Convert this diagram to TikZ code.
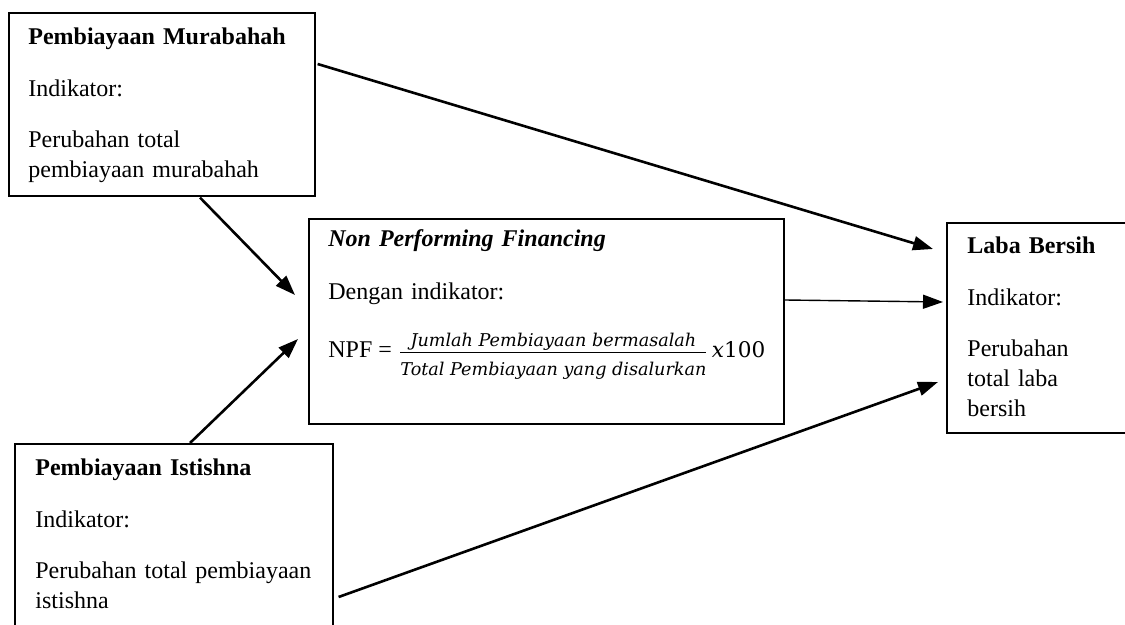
\documentclass[tikz,border=0pt]{standalone}
\usepackage{fontspec}
\setmainfont{Liberation Serif}
\newfontfamily\fracfont{DejaVu Serif}
\usetikzlibrary{arrows.meta}

\begin{document}
\begin{tikzpicture}[x=0.5pt,y=0.5pt,yscale=-1,xscale=1,
	box/.style={draw, line width=0.8pt, inner sep=0pt, anchor=north west},
	txt/.style={anchor=base west, inner sep=0pt, text width=170pt, align=left, font=\fontsize{12}{15}\selectfont},
	link/.style={-{Triangle[length=10pt,width=7pt]}, line width=1.3pt},
	thinlink/.style={-{Triangle[length=10pt,width=7pt]}, line width=0.7pt}]
	\useasboundingbox (0,0) rectangle (1125,625);
	
	%Boxes
	\node [box, minimum width=153pt, minimum height=91.5pt] (mur) at (8,12) {};
	\node [box, minimum width=159pt, minimum height=108.5pt] (ist) at (14,443) {};
	\node [box, minimum width=237.5pt, minimum height=102.5pt] (npf) at (308,218) {};
	\node [box, minimum width=97pt, minimum height=105pt] (laba) at (946,222) {};
	
	% Text Node
	\node [txt] (murtxt) at (28,45) {\textbf{Pembiayaan Murabahah}\\[11pt] Indikator:\\[10.5pt] Perubahan total\\ pembiayaan murabahah};
	% Text Node
	\node [txt] (isttxt) at (35,476) {\textbf{Pembiayaan Istishna}\\[11pt] Indikator:\\[10.5pt] Perubahan total pembiayaan\\ istishna};
	% Text Node
	\node [txt] (labatxt) at (967,254) {\textbf{Laba Bersih}\\[11pt] Indikator:\\[10.5pt] Perubahan\\ total laba\\ bersih};
	% Text Node
	\node [txt] (npftxt) at (328,247) {\textbf{\textit{Non Performing Financing}}\\[11.5pt] Dengan indikator:};
	% Text Node
	\node [anchor=base west, inner sep=0pt, font=\fontsize{12}{15}\selectfont] (npfeq) at (328,358)
	{NPF = $\frac{\raisebox{0pt}[\height][0pt]{\fracfont\itshape\fontsize{8.8}{10}\selectfont Jumlah Pembiayaan bermasalah}}{\hbox{\rule{0pt}{11pt}\fracfont\itshape\fontsize{8.8}{10}\selectfont Total Pembiayaan yang disalurkan}}$\hspace{1.5pt}{\fracfont\fontsize{10.8}{13}\selectfont\itshape x\upshape 100}};
	
	%Arrows
	\draw [link] ([shift={(2,52)}]mur.north east) -- ([shift={(-13,27)}]laba.north west);
	\draw [link] ([shift={(192,1)}]mur.south west) -- ([shift={(-13,77)}]npf.north west);
	\draw [link] ([shift={(176,0)}]ist.north west) -- ([shift={(-10,121)}]npf.north west);
	\draw [thinlink] ([shift={(0,82)}]npf.north east) -- ([shift={(-3,80)}]laba.north west);
	\draw [link] ([shift={(5,154)}]ist.north east) -- ([shift={(-8,160)}]laba.north west);
	
\end{tikzpicture}
\end{document}
